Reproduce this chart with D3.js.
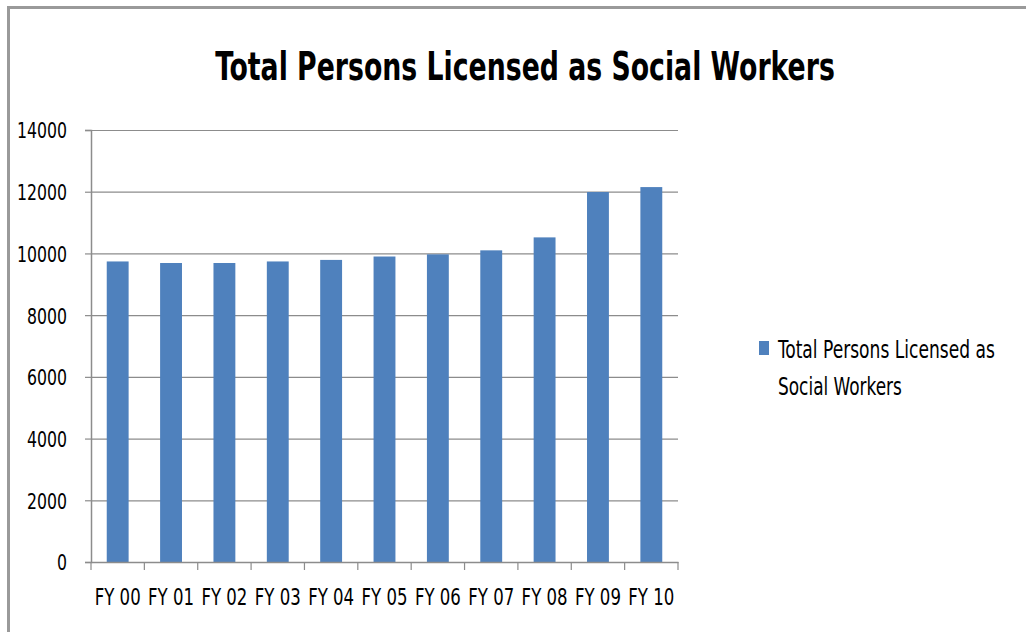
<!DOCTYPE html>
<html><head><meta charset="utf-8">
<script src="https://cdn.jsdelivr.net/npm/d3@7"></script>
<style>
html,body{margin:0;padding:0;background:#fff;}
svg text{font-family:"Liberation Sans Narrow","DejaVu Sans Condensed","Arial Narrow",sans-serif;fill:#000;}
</style></head>
<body>
<svg id="c" width="1026" height="632"></svg>
<script>
const categories = ["FY 00","FY 01","FY 02","FY 03","FY 04","FY 05","FY 06","FY 07","FY 08","FY 09","FY 10"];
const values = [9740,9690,9690,9740,9790,9900,9970,10100,10520,11990,12150];
const yTicks = [0,2000,4000,6000,8000,10000,12000,14000];
const seriesName = "Total Persons Licensed as Social Workers";
const chartTitle = "Total Persons Licensed as Social Workers";

(function(){
const svg = d3.select("#c");
// squeeze a text horizontally about its anchor x so its rendered width is w
function squeeze(node, w, ax){
  const n = node.getComputedTextLength();
  if (n > w) {
    const k = w / n;
    node.setAttribute("transform", `translate(${ax},0) scale(${k},1) translate(${-ax},0)`);
  }
}
// frame
svg.append("path").attr("d","M8.5,632 V7.5 H1026").attr("fill","none").attr("stroke","#9a9a9a").attr("stroke-width",3);

const pL=91, pR=678, pT=130, pB=562;
const x = d3.scaleBand().domain(categories).range([pL,pR]).padding(0);
const y = d3.scaleLinear().domain([0,14000]).range([pB,pT]);

// gridlines
svg.append("g").selectAll("line").data(yTicks.filter(d=>d>0)).join("line")
  .attr("x1",pL).attr("x2",pR).attr("y1",d=>y(d)+0.5).attr("y2",d=>y(d)+0.5)
  .attr("stroke","#8c8c8c").attr("stroke-width",1.2);

// bars
const bw = x.bandwidth()*0.41;
svg.append("g").selectAll("rect").data(values).join("rect")
  .attr("x",(d,i)=>x(categories[i])+x.bandwidth()/2-bw/2)
  .attr("width",bw)
  .attr("y",d=>y(d)).attr("height",d=>y(0)-y(d))
  .attr("fill","#4f81bd");

// y axis
const ya = svg.append("g").attr("transform",`translate(${pL},0)`)
  .call(d3.axisLeft(y).tickValues(yTicks).tickSize(6).tickPadding(18).tickFormat(d3.format("d")));
ya.select(".domain").attr("stroke","#8c8c8c").attr("stroke-width",1.5);
ya.selectAll(".tick line").attr("stroke","#8c8c8c").attr("stroke-width",1.2);
ya.selectAll(".tick text").attr("font-size",22).attr("dy","0.36em")
  .each(function(d){ squeeze(this, String(d).length*10, -24); });

// x axis
const xa = svg.append("g").attr("transform",`translate(0,${pB})`)
  .call(d3.axisBottom(x).tickSize(0).tickPadding(27));
xa.select(".domain").attr("stroke","#8c8c8c").attr("stroke-width",1.5);
xa.selectAll(".tick text").attr("font-size",23).each(function(){ squeeze(this, 46, 0); });
const bounds = categories.map(c=>x(c)).concat([x(categories[categories.length-1])+x.bandwidth()]);
xa.append("g").selectAll("line").data(bounds).join("line")
  .attr("x1",d=>d).attr("x2",d=>d).attr("y1",0).attr("y2",8)
  .attr("stroke","#8c8c8c").attr("stroke-width",1.2);

// title
svg.append("text").attr("x",525).attr("y",80).attr("text-anchor","middle")
  .attr("font-size",39).attr("font-weight","bold")
  .text(chartTitle).each(function(){ squeeze(this, 620, 525); });

// legend
svg.append("rect").attr("x",759).attr("y",341).attr("width",10).attr("height",14).attr("fill","#4f81bd");
const words = seriesName.split(" ");
svg.append("text").attr("font-size",24).attr("x",778).attr("y",358)
  .text(words.slice(0,4).join(" ")).each(function(){ squeeze(this, 217, 778); });
svg.append("text").attr("font-size",24).attr("x",778).attr("y",395)
  .text(words.slice(4).join(" ")).each(function(){ squeeze(this, 124, 778); });
})();
</script>
</body></html>
